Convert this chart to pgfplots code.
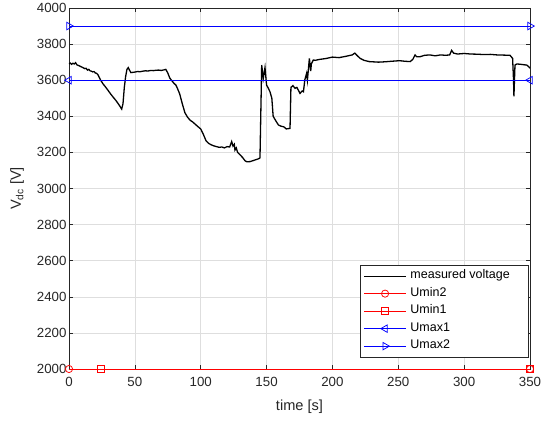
\documentclass[border=0pt]{standalone}
\usepackage{fontspec}
\setmainfont{Liberation Sans}
\usepackage{pgfplots}
\usepackage{pgfplotstable}
\pgfplotsset{compat=1.18}
\definecolor{axgray}{gray}{0.15}
\definecolor{gridgray}{gray}{0.87}
\pgfplotstableread{
t v
0 3690
1 3695
2 3688
3 3694
4 3690
5 3697
6 3685
7 3682
8 3679
9 3675
10 3672
11 3668
12 3664
13 3666
14 3656
15 3660
16 3652
17 3650
18 3646
19 3648
20 3640
21 3638
22 3630
23 3615
24 3600
26 3578
28 3560
30 3540
32 3520
34 3502
36 3484
38 3463
40 3440
41 3470
42 3560
43 3620
44 3660
45 3670
46 3655
47 3642
48 3643
50 3645
52 3648
54 3647
56 3650
58 3652
60 3651
62 3654
64 3653
66 3655
68 3656
70 3654
72 3657
73.5 3660
75 3640
76.5 3612
78 3598
80 3580
81 3575
82 3560
84 3525
86 3470
88 3420
90 3395
92 3378
94 3368
96 3355
98 3342
100 3330
102 3300
104 3265
106 3250
108 3242
110 3236
112 3232
114 3228
116 3230
118 3225
120 3232
122 3230
123.5 3260
124.5 3235
125.5 3245
126 3213
127 3225
128 3200
130 3186
132 3170
133.6 3154
135 3148
137.4 3149
140 3155
142 3160
144 3165
145 3170
146.3 3684
147.5 3610
148.8 3670
150 3573
151 3560
152.6 3536
154 3500
155 3400
157 3375
159 3352
161 3345
163 3342
165 3330
167.8 3333
168.5 3560
170 3570
171.6 3555
173 3560
175.4 3527
177 3540
178 3536
179 3601
180.4 3638
181 3600
182.5 3721
183.5 3650
184 3690
185.5 3712
187 3710
190 3715
195 3720
200 3728
205 3725
210 3732
215 3740
217 3750
219 3735
221 3721
224 3710
228 3703
235 3700
240 3702
245 3705
251 3708
255 3705
259 3703
261 3715
262.7 3740
264 3730
266.5 3730
270 3738
274 3740
278 3735
282 3740
286 3738
289 3740
290.5 3765
292 3750
295 3745
300 3748
305 3745
310 3744
315 3742
320 3743
325 3740
330 3739
334.8 3738
336.8 3721
337.5 3600
337.8 3510
338.3 3620
338.6 3684
340 3690
343 3688
346 3685
347.5 3684
349 3675
350 3666
}\voltage
\begin{document}
\begin{tikzpicture}
\begin{axis}[
  at={(0pt,0pt)}, anchor=south west,
  width=461pt, height=361pt, scale only axis,
  xmin=0, xmax=350, ymin=2000, ymax=4000,
  xtick={0,50,...,350}, ytick={2000,2200,...,4000},
  grid=major,
  major grid style={gridgray, line width=0.5pt},
  axis line style={axgray, line width=0.6pt},
  tick style={axgray, line width=0.5pt},
  tick align=inside, major tick length=4.5pt,
  ticklabel style={font=\fontsize{13.3}{15}\selectfont, text=axgray},
  xticklabel style={yshift=-5pt},
  yticklabel style={xshift=1pt},
  label style={font=\fontsize{14.6}{16}\selectfont, text=axgray},
  /pgf/number format/assume math mode=true,
  /pgf/number format/1000 sep={},
  xlabel={time [s]},
  ylabel={V\textsubscript{dc} [V]},
  xlabel style={yshift=-6pt},
  ylabel style={yshift=6pt},
  clip mode=individual,
  legend style={at={(0.9957,0.033)}, anchor=south east, draw=axgray,
    font=\fontsize{12.5}{14}\selectfont, text=black, cells={anchor=west},
    row sep=6pt, inner xsep=4pt, inner ysep=5pt,
    nodes={inner sep=0pt, text height=8.5pt, text depth=3pt},
    /tikz/every odd column/.append style={column sep=4pt}},
  legend image code/.code={\draw[mark repeat=2,mark phase=2,#1] plot coordinates {(0pt,0pt)(21pt,0pt)(42pt,0pt)};},
]
\addplot[black, line width=1.3pt, no marks, legend image post style={line width=0.7pt}] table[x=t,y=v] {\voltage};
\addlegendentry{measured voltage\hspace*{14pt}}
\addplot[red, line width=0.75pt, mark=o, mark size=3.6pt] coordinates {(0,2000)(350,2000)};
\addlegendentry{Umin2}
\addplot[red, line width=0.75pt, mark=square, mark size=3.3pt] coordinates {(24,2000)(350,2000)};
\addlegendentry{Umin1}
\addplot[blue, line width=0.75pt, mark=triangle, mark size=4.3pt, mark options={rotate=90}] coordinates {(0,3600)(350,3600)};
\addlegendentry{Umax1}
\addplot[blue, line width=0.75pt, mark=triangle, mark size=4.3pt, mark options={rotate=-90}] coordinates {(0,3900)(350,3900)};
\addlegendentry{Umax2}
\end{axis}
\pgfresetboundingbox
\path[use as bounding box] (-69pt,-54pt) rectangle (474pt,369pt);
\end{tikzpicture}
\end{document}
